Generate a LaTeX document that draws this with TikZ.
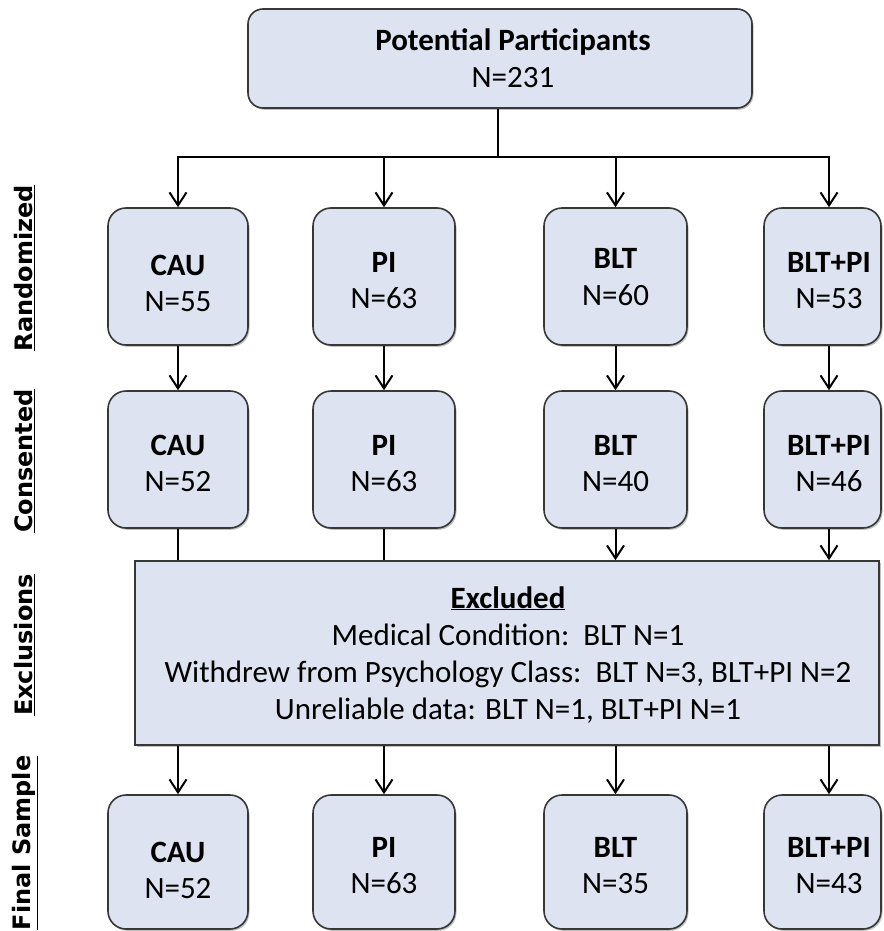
\documentclass[tikz,border=0pt]{standalone}
\usepackage{fontspec}
\setmainfont{Carlito}
\newfontfamily\lblfont{DejaVu Sans}
\usetikzlibrary{arrows.meta,shadows}
\definecolor{boxfill}{RGB}{221,227,240}
\definecolor{boxline}{RGB}{55,55,55}
\begin{document}
\begin{tikzpicture}[x=1pt,y=-1pt,
  shad/.style={drop shadow={shadow xshift=1.5pt,shadow yshift=-1.8pt,opacity=0.35,fill=black!70}},
  grp/.style={draw=boxline,line width=1.6pt,fill=boxfill,rounded corners=18pt,inner sep=0pt,shad},
  topbox/.style={draw=boxline,line width=1.6pt,fill=boxfill,rounded corners=15pt,inner sep=0pt,shad},
  exbox/.style={draw=boxline,line width=1.6pt,fill=boxfill,inner sep=0pt,shad},
  tb/.style={anchor=base,inner sep=0pt,font=\bfseries\fontsize{31}{37}\selectfont},
  tn/.style={anchor=base,inner sep=0pt,font=\fontsize{31}{37}\selectfont},
  lbl/.style={rotate=90,inner sep=0pt,font=\lblfont\bfseries\fontsize{24}{28}\selectfont},
  ln/.style={line width=2pt,black},
  arr/.style={ln,-{Straight Barb[length=13pt,width=17pt]}}
]
\useasboundingbox (0,0) rectangle (883,931);

% top box
\node[topbox,minimum width=504pt,minimum height=99pt] (top) at (500,58.5) {};
\node[tb] (topa) at (513,51) {Potential Participants};
\node[tn] (topb) at (513,88) {N=231};

% randomized row
\node[grp,minimum width=140pt,minimum height=137pt] (r1) at (178,276.5) {};
\node[grp,minimum width=142pt,minimum height=137pt] (r2) at (384,276.5) {};
\node[grp,minimum width=143pt,minimum height=137pt] (r3) at (615.5,276.5) {};
\node[grp,minimum width=117pt,minimum height=137pt] (r4) at (822.5,276.5) {};
\node[tb] (r1a) at (178,275) {CAU};   \node[tn] (r1b) at (178,311) {N=55};
\node[tb] (r2a) at (384,272) {PI};    \node[tn] (r2b) at (384,308) {N=63};
\node[tb] (r3a) at (615.5,268) {BLT}; \node[tn] (r3b) at (615.5,305) {N=60};
\node[tb] (r4a) at (829,272) {BLT+PI};\node[tn] (r4b) at (829,308) {N=53};

% consented row
\node[grp,minimum width=140pt,minimum height=137pt] (c1) at (178,459.5) {};
\node[grp,minimum width=142pt,minimum height=137pt] (c2) at (384,459.5) {};
\node[grp,minimum width=143pt,minimum height=137pt] (c3) at (615.5,459.5) {};
\node[grp,minimum width=117pt,minimum height=137pt] (c4) at (822.5,459.5) {};
\node[tb] (c1a) at (178,455) {CAU};   \node[tn] (c1b) at (178,491) {N=52};
\node[tb] (c2a) at (384,455) {PI};    \node[tn] (c2b) at (384,491) {N=63};
\node[tb] (c3a) at (615.5,455) {BLT}; \node[tn] (c3b) at (615.5,491) {N=40};
\node[tb] (c4a) at (829,455) {BLT+PI};\node[tn] (c4b) at (829,491) {N=46};

% exclusions
\node[exbox,minimum width=744pt,minimum height=184pt] (ex) at (507,653) {};
\node[tb] (exa) at (508,608) {\underline{Excluded}};
\node[tn] (exb) at (508,645) {Medical Condition:\ \ BLT N=1};
\node[tn] (exc) at (508,682) {Withdrew from Psychology Class:\ \ BLT N=3, BLT+PI N=2};
\node[tn] (exd) at (508,719) {Unreliable data: BLT N=1, BLT+PI N=1};

% final row
\node[grp,minimum width=140pt,minimum height=134pt] (f1) at (178,862) {};
\node[grp,minimum width=142pt,minimum height=134pt] (f2) at (384,862) {};
\node[grp,minimum width=143pt,minimum height=134pt] (f3) at (615.5,862) {};
\node[grp,minimum width=117pt,minimum height=134pt] (f4) at (822.5,862) {};
\node[tb] (f1a) at (178,862) {CAU};   \node[tn] (f1b) at (178,898) {N=52};
\node[tb] (f2a) at (384,857) {PI};    \node[tn] (f2b) at (384,893) {N=63};
\node[tb] (f3a) at (615.5,857) {BLT}; \node[tn] (f3b) at (615.5,893) {N=35};
\node[tb] (f4a) at (829,857) {BLT+PI};\node[tn] (f4b) at (829,893) {N=43};

% row labels
\node[lbl] (lr) at (25,268) {\underline{Randomized}};
\node[lbl] (lc) at (25,461) {\underline{Consented}};
\node[lbl] (le) at (25,645) {\underline{Exclusions}};
\node[lbl] (lf) at (25,843) {\underline{Final Sample}};

% connectors
\coordinate (bj) at (498,157);
\coordinate (x4) at (829,0);
\draw[ln] (top.south -| bj) -- (bj);
\draw[arr] (bj) -| (r1.north);
\draw[arr] (bj -| r2.north) -- (r2.north);
\draw[arr] (bj -| r3.north) -- (r3.north);
\draw[arr] (bj) -| (r4.north -| x4);

\draw[arr] (r1.south) -- (c1.north);
\draw[arr] (r2.south) -- (c2.north);
\draw[arr] (r3.south) -- (c3.north);
\draw[arr] (r4.south -| x4) -- (c4.north -| x4);

\draw[ln] (c1.south) -- (ex.north -| c1.south);
\draw[ln] (c2.south) -- (ex.north -| c2.south);
\draw[arr] (c3.south) -- (ex.north -| c3.south);
\draw[arr] (c4.south -| x4) -- (ex.north -| x4);

\draw[arr] (ex.south -| f1.north) -- (f1.north);
\draw[arr] (ex.south -| f2.north) -- (f2.north);
\draw[arr] (ex.south -| f3.north) -- (f3.north);
\draw[arr] (ex.south -| x4) -- (f4.north -| x4);
\end{tikzpicture}
\end{document}
